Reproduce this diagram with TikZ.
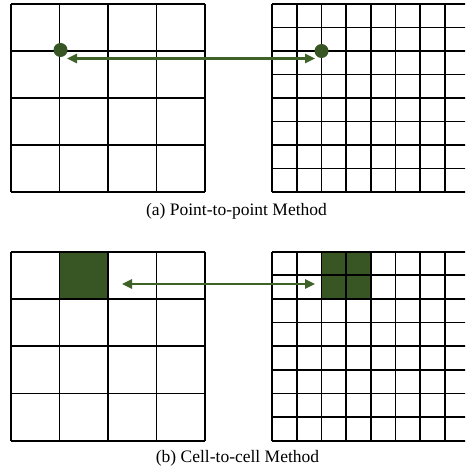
\documentclass[tikz,border=0pt]{standalone}
\usepackage{fontspec}
\setmainfont{Liberation Serif}
\usetikzlibrary{arrows.meta}
\definecolor{dkgreen}{RGB}{55,86,35}
\definecolor{argreen}{RGB}{62,98,40}
\tikzset{
  gridline/.style={line width=1.8pt, black},
  linkarrow/.style={line width=2.4pt, argreen, {Triangle[length=10pt,width=9pt]}-{Triangle[length=10pt,width=9pt]}},
  gdot/.style={circle, fill=dkgreen, inner sep=0pt, minimum size=14pt},
  gcell/.style={fill=dkgreen},
  caption/.style={font=\fontsize{17.5}{20}\selectfont, inner sep=0pt}
}
\begin{document}
\begin{tikzpicture}[x=1pt,y=-1pt]
\useasboundingbox (0,0) rectangle (465,470);
\clip (0,0) rectangle (465,470);
% ---- panel (a) ----
% left coarse grid
\foreach \i in {0,...,4} {
  \draw[gridline] ({11+48.5*\i},4) -- ({11+48.5*\i},192);
  \draw[gridline] (11,{4+47*\i}) -- (205,{4+47*\i});
}
% right fine grid
\foreach \i in {0,...,7} {
  \draw[gridline] ({272+24.7*\i},4) -- ({272+24.7*\i},192);
}
\foreach \i in {0,...,8} {
  \draw[gridline] (272,{4+23.5*\i}) -- (470,{4+23.5*\i});
}
\node[gdot] (d1) at (60.5,50) {};
\node[gdot] (d2) at (321.5,51) {};
\coordinate (a1) at (67,58.5);
\coordinate (a2) at (315,58.5);
\draw[linkarrow] (a1) -- (a2);
\node[caption] (capa) at (236.5,211.5) {(a) Point-to-point Method};
% ---- panel (b) ----
\fill[gcell] (59.5,251.7) rectangle (108,299);
\fill[gcell] (321.4,251.7) rectangle (370.8,299);
\foreach \i in {0,...,4} {
  \draw[gridline] ({11+48.5*\i},251.7) -- ({11+48.5*\i},440.7);
  \draw[gridline] (11,{251.7+47.25*\i}) -- (205,{251.7+47.25*\i});
}
\foreach \i in {0,...,7} {
  \draw[gridline] ({272+24.7*\i},251.7) -- ({272+24.7*\i},440.7);
}
\foreach \i in {0,...,8} {
  \draw[gridline] (272,{251.7+23.625*\i}) -- (470,{251.7+23.625*\i});
}
\coordinate (b1) at (122,284);
\coordinate (b2) at (315,284);
\draw[linkarrow] (b1) -- (b2);
\node[caption] (capb) at (237.5,458) {(b) Cell-to-cell Method};
\end{tikzpicture}
\end{document}
